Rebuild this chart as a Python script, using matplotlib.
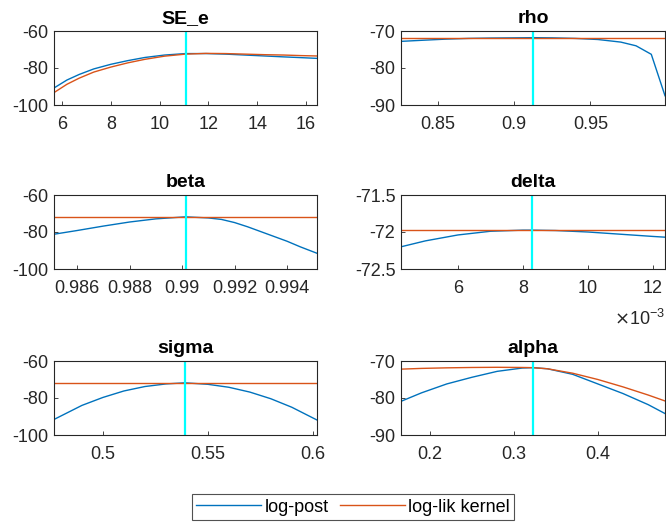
import matplotlib
matplotlib.use("Agg")
import matplotlib.pyplot as plt
from matplotlib.ticker import FuncFormatter

plt.rcParams['font.family'] = ['Liberation Sans', 'DejaVu Sans']

# parameter names, modes and axis ranges
names = ['SE_e', 'rho', 'beta', 'delta', 'sigma', 'alpha']
modes = [11.06, 0.9125, 0.99013, 0.00828, 0.539, 0.3226]
xlims = [(5.67, 16.45), (0.8257, 0.999), (0.98512, 0.99514),
         (0.00425, 0.01237), (0.4767, 0.602), (0.1655, 0.48)]
ylims = [(-100, -60), (-90, -70), (-100, -60), (-72.5, -71.5), (-100, -60), (-90, -70)]
yticks = [[-100, -80, -60], [-90, -80, -70], [-100, -80, -60],
          [-72.5, -72, -71.5], [-100, -80, -60], [-90, -80, -70]]
xticks = [[6, 8, 10, 12, 14, 16], [0.85, 0.9, 0.95],
          [0.986, 0.988, 0.99, 0.992, 0.994],
          [0.006, 0.008, 0.010, 0.012], [0.5, 0.55, 0.6], [0.2, 0.3, 0.4]]

# SE_e
se_x = [5.67, 6.2, 6.7, 7.3, 8, 8.7, 9.4, 10.2, 11.06, 11.9, 12.7, 13.5, 14.3, 15.1, 15.8, 16.45]
se_post = [-90.8, -86.5, -83.5, -80.5, -78, -76, -74.3, -73, -72.2, -72.2, -72.5, -73, -73.5, -74, -74.4, -74.8]
se_lik = [-93.3, -88.8, -85.5, -82.2, -79.5, -77.2, -75.3, -73.6, -72.5, -72.1, -72.2, -72.5, -72.8, -73, -73.3, -73.5]

# rho
rho_x = [0.8257, 0.84, 0.855, 0.87, 0.885, 0.9, 0.9125, 0.925, 0.94, 0.955, 0.97, 0.98, 0.99, 0.999]
rho_post = [-72.8, -72.5, -72.2, -72.0, -71.9, -71.85, -71.8, -71.85, -72.0, -72.3, -73.0, -74.0, -76.3, -87.5]
rho_lik = [-71.8] * len(rho_x)

# beta
beta_x = [0.98512, 0.986, 0.987, 0.988, 0.989, 0.99013, 0.991, 0.9915, 0.992, 0.9925,
          0.993, 0.9935, 0.994, 0.9945, 0.99514]
beta_post = [-81.2, -79.2, -76.8, -74.6, -72.9, -71.8, -72.4, -73.2, -74.9, -77.2,
             -79.8, -82.4, -85.0, -88.0, -91.5]
beta_lik = [-71.8] * len(beta_x)

# delta
delta_x = [0.00425, 0.005, 0.006, 0.007, 0.008, 0.00828, 0.009, 0.010, 0.011, 0.012, 0.01237]
delta_post = [-72.2, -72.12, -72.04, -71.99, -71.975, -71.975, -71.98, -72.0, -72.03, -72.06, -72.07]
delta_lik = [-71.975] * len(delta_x)

# sigma
sigma_x = [0.4767, 0.49, 0.5, 0.51, 0.52, 0.53, 0.539, 0.55, 0.56, 0.57, 0.58, 0.59, 0.602]
sigma_post = [-91.6, -84.0, -79.7, -76.2, -73.8, -72.4, -71.8, -72.6, -74.2, -76.8, -80.4, -85.0, -91.9]
sigma_lik = [-71.8] * len(sigma_x)

# alpha
alpha_x = [0.1655, 0.19, 0.22, 0.25, 0.28, 0.31, 0.3226, 0.34, 0.37, 0.40, 0.43, 0.46, 0.48]
alpha_post = [-80.9, -78.6, -76.2, -74.4, -72.8, -71.9, -71.8, -72.1, -73.6, -76.2, -78.8, -81.8, -84.2]
alpha_lik = [-72.2, -72.0, -71.85, -71.75, -71.7, -71.75, -71.8, -72.1, -73.3, -75.0, -77.0, -79.2, -80.8]

xs = [se_x, rho_x, beta_x, delta_x, sigma_x, alpha_x]
posts = [se_post, rho_post, beta_post, delta_post, sigma_post, alpha_post]
liks = [se_lik, rho_lik, beta_lik, delta_lik, sigma_lik, alpha_lik]

blue = '#0072BD'
red = '#D95319'
dark = '#262626'

fig = plt.figure(figsize=(6.66, 5.22), dpi=100)
W, H = 666, 522
lefts = [54, 401]
widths = [263, 264]
tops = [31, 195, 361]
hgt = 74

for i in range(6):
    r, c = divmod(i, 2)
    ax = fig.add_axes([lefts[c] / W, 1 - (tops[r] + hgt) / H, widths[c] / W, hgt / H])
    l1, = ax.plot(xs[i], posts[i], color=blue, lw=1.0, label='log-post')
    l2, = ax.plot(xs[i], liks[i], color=red, lw=1.0, label='log-lik kernel')
    ax.axvline(modes[i], color='#00FFFF', lw=1.6)
    ax.set_xlim(*xlims[i])
    ax.set_ylim(*ylims[i])
    ax.set_yticks(yticks[i])
    ax.set_xticks(xticks[i])
    ax.set_title(names[i], fontsize=14, fontweight='bold', pad=6)
    ax.tick_params(direction='in', length=3, width=0.6, colors=dark, labelsize=13)
    ax.tick_params(axis='x', pad=8)
    ax.tick_params(axis='y', pad=4)
    for s in ax.spines.values():
        s.set_color(dark)
        s.set_linewidth(0.8)
    if names[i] == 'delta':
        ax.xaxis.set_major_formatter(FuncFormatter(lambda v, p: f"{v * 1000:g}"))
        ax.text(1.0, -0.68, r'$\times\mathregular{10^{-3}}$', transform=ax.transAxes,
                ha='right', va='center', fontsize=13, color=dark)
    else:
        ax.xaxis.set_major_formatter(FuncFormatter(lambda v, p: f"{v:g}"))
    ax.yaxis.set_major_formatter(FuncFormatter(lambda v, p: f"{v:g}"))

leg = fig.legend([l1, l2], ['log-post', 'log-lik kernel'], loc='lower center',
                 bbox_to_anchor=(353 / W, 0.0), ncol=2, fontsize=13,
                 frameon=True, fancybox=False, edgecolor=dark,
                 handlelength=3.6, handletextpad=0.2, columnspacing=0.6,
                 borderpad=0.25, borderaxespad=0.1)
leg.get_frame().set_linewidth(0.8)

fig.savefig('out.png', dpi=100)
